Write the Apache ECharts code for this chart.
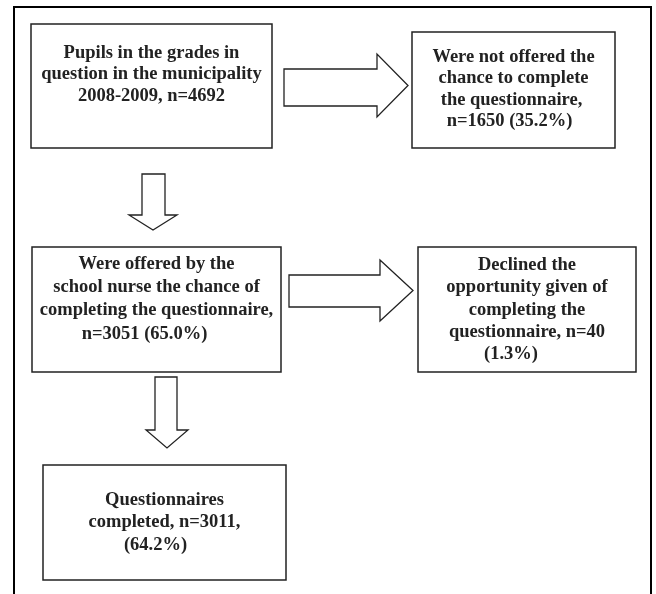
<!DOCTYPE html>
<html>
<head>
<meta charset="utf-8">
<script src="https://cdn.jsdelivr.net/npm/echarts@6/dist/echarts.min.js"></script>
<style>
  html, body { margin: 0; padding: 0; background: #fff; }
  #chart { width: 656px; height: 594px; }
</style>
</head>
<body>
<div id="chart"></div>
<script>
// box texts, one entry per line
var box1Lines = ['Pupils in the grades in', 'question in the municipality', '2008-2009, n=4692'];
var box2Lines = ['Were not offered the', 'chance to complete', 'the questionnaire,', 'n=1650 (35.2%)'];
var box3Lines = ['Were offered by the', 'school nurse the chance of', 'completing the questionnaire,', 'n=3051 (65.0%)'];
var box4Lines = ['Declined the', 'opportunity given of', 'completing the', 'questionnaire, n=40', '(1.3%)'];
var box5Lines = ['Questionnaires', 'completed, n=3011,', '(64.2%)'];

// layout: box rect, first line y, line step, per-line x shift
var boxes = [
  { lines: box1Lines, x: 31, y: 24, w: 241, h: 124, ty: 53, step: 21.5, dx: [0, 0, 0] },
  { lines: box2Lines, x: 412, y: 32, w: 203, h: 116, ty: 57, step: 21.4, dx: [0, 0, -2, -4] },
  { lines: box3Lines, x: 32, y: 247, w: 249, h: 125, ty: 264, step: 23.3, dx: [0, 0, 0, -12] },
  { lines: box4Lines, x: 418, y: 247, w: 218, h: 125, ty: 265, step: 22.4, dx: [0, 0, 0, 0, -16] },
  { lines: box5Lines, x: 43, y: 465, w: 243, h: 115, ty: 500, step: 22.5, dx: [0, 0, -9] }
];

// block arrows: shaft rect + triangular head
var arrows = [
  { dir: 'right', x0: 284, x1: 377, tip: 408, s0: 69, s1: 106, h0: 54, h1: 117 },
  { dir: 'right', x0: 289, x1: 380, tip: 413, s0: 275, s1: 307, h0: 260, h1: 321 },
  { dir: 'down', x0: 174, x1: 215, tip: 230, s0: 142, s1: 165, h0: 129, h1: 177 },
  { dir: 'down', x0: 377, x1: 430, tip: 448, s0: 155, s1: 177, h0: 146, h1: 188 }
];

var ink = '#222';
var font = 'bold 18.5px "Liberation Serif", "Times New Roman", serif';

function arrowPoints(a) {
  var mid = (a.h0 + a.h1) / 2;
  if (a.dir === 'right') {
    return [[a.x0, a.s0], [a.x1, a.s0], [a.x1, a.h0], [a.tip, mid],
            [a.x1, a.h1], [a.x1, a.s1], [a.x0, a.s1]];
  }
  return [[a.s0, a.x0], [a.s1, a.x0], [a.s1, a.x1], [a.h1, a.x1],
          [mid, a.tip], [a.h0, a.x1], [a.s0, a.x1]];
}

var elements = [];

// outer frame (bottom edge runs off the page)
elements.push({
  type: 'polyline',
  shape: { points: [[14, 600], [14, 7], [651, 7], [651, 600]] },
  style: { stroke: '#000', lineWidth: 2, fill: null }
});

boxes.forEach(function (b) {
  elements.push({
    type: 'rect',
    shape: { x: b.x, y: b.y, width: b.w, height: b.h },
    style: { fill: '#fff', stroke: ink, lineWidth: 1.5 }
  });
  b.lines.forEach(function (t, i) {
    elements.push({
      type: 'text',
      x: b.x + b.w / 2 + (b.dx[i] || 0),
      y: b.ty + i * b.step,
      style: {
        text: t, font: font, fill: ink,
        textAlign: 'center', textVerticalAlign: 'middle'
      }
    });
  });
});

arrows.forEach(function (a) {
  elements.push({
    type: 'polygon',
    shape: { points: arrowPoints(a) },
    style: { fill: '#fff', stroke: ink, lineWidth: 1.3, lineJoin: 'miter' }
  });
});

var myChart = echarts.init(document.getElementById('chart'), null, { renderer: 'canvas' });
myChart.setOption({
  backgroundColor: '#fff',
  animation: false,
  graphic: { elements: elements }
});
</script>
</body>
</html>
